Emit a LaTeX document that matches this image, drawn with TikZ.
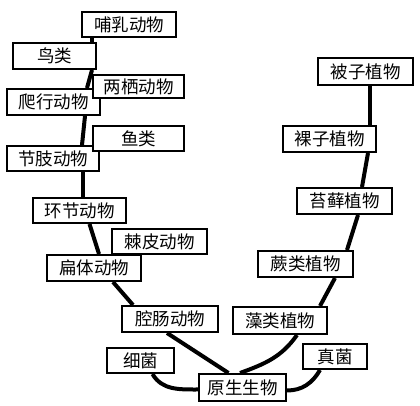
\documentclass[tikz,border=0pt]{standalone}
\usepackage{fontspec}
\newfontfamily\cjk{Noto Sans CJK SC}
\pgfdeclarelayer{bg}
\pgfsetlayers{bg,main}
\tikzset{
  box/.style={draw=black, line width=2pt, fill=white, inner sep=0pt,
    font=\cjk\fontsize{17.5}{17.5}\selectfont, text=black},
  link/.style={draw=black, line width=4pt}
}
\begin{document}
\begin{tikzpicture}[x=1pt,y=1pt]
\useasboundingbox (0,0) rectangle (420,406);
% left branch (animals)
\node[box, minimum width=94pt, minimum height=25pt] (mam) at (129,381.5) {哺乳动物};
\node[box, minimum width=83pt, minimum height=26pt] (bird) at (54.5,350) {鸟类};
\node[box, minimum width=93pt, minimum height=26pt] (rept) at (53.5,304) {爬行动物};
\node[box, minimum width=91pt, minimum height=23pt] (amph) at (138.5,319.5) {两栖动物};
\node[box, minimum width=92pt, minimum height=25pt] (arth) at (53,247.5) {节肢动物};
\node[box, minimum width=91pt, minimum height=25pt] (fish) at (138.5,267.5) {鱼类};
\node[box, minimum width=93pt, minimum height=25pt] (anne) at (79.5,195.5) {环节动物};
\node[box, minimum width=95pt, minimum height=25pt] (echi) at (159.5,164.5) {棘皮动物};
\node[box, minimum width=94pt, minimum height=26pt] (flat) at (94,138) {扁体动物};
\node[box, minimum width=96pt, minimum height=26pt] (cnid) at (170,87) {腔肠动物};
\node[box, minimum width=67pt, minimum height=25pt] (bact) at (140.5,45.5) {细菌};
\node[box, minimum width=87pt, minimum height=27pt] (prot) at (242.5,18.5) {原生生物};
% right branch (plants)
\node[box, minimum width=95pt, minimum height=27pt] (angio) at (365.5,334.5) {被子植物};
\node[box, minimum width=93pt, minimum height=26pt] (gymno) at (329.5,267) {裸子植物};
\node[box, minimum width=95pt, minimum height=26pt] (moss) at (344.5,205) {苔藓植物};
\node[box, minimum width=95pt, minimum height=26pt] (fern) at (305.5,142) {蕨类植物};
\node[box, minimum width=94pt, minimum height=27pt] (alga) at (280,85.5) {藻类植物};
\node[box, minimum width=64pt, minimum height=25pt] (fungi) at (335,49.5) {真菌};
\begin{pgfonlayer}{bg}
\draw[link] ([xshift=-37pt]mam.south) -- ([xshift=37.5pt]bird.north);
\draw[link] ([xshift=37.5pt]bird.south) -- ([xshift=33.5pt]rept.north);
\draw[link] ([xshift=31.5pt]rept.south) -- ([xshift=29pt]arth.north);
\draw[link] ([xshift=30pt]arth.south) -- ([xshift=3.5pt]anne.north);
\draw[link] ([xshift=10pt]anne.south) -- ([xshift=5pt]flat.north);
\draw[link] ([xshift=19pt]flat.south) -- ([xshift=-37pt]cnid.north);
\draw[link] ([xshift=-3pt]cnid.south) -- ([xshift=-14pt]prot.north);
\draw[link] ([xshift=4.5pt]angio.south) -- ([xshift=40.5pt]gymno.north);
\draw[link] ([xshift=38.5pt]gymno.south) -- ([xshift=17.5pt]moss.north);
\draw[link] ([xshift=13.5pt]moss.south) -- ([xshift=41.5pt]fern.north);
\draw[link] ([xshift=29.5pt]fern.south) -- ([xshift=40pt]alga.north);
\draw[link] ([xshift=17pt]alga.south) to[out=-125,in=20] ([xshift=-2.5pt]prot.north);
\draw[link] ([xshift=12pt]bact.south) to[out=-60,in=180] ([yshift=-2pt]prot.west);
\draw[link] ([xshift=-15pt]fungi.south) to[out=-120,in=0] ([yshift=-3pt]prot.east);
\end{pgfonlayer}
\end{tikzpicture}
\end{document}
